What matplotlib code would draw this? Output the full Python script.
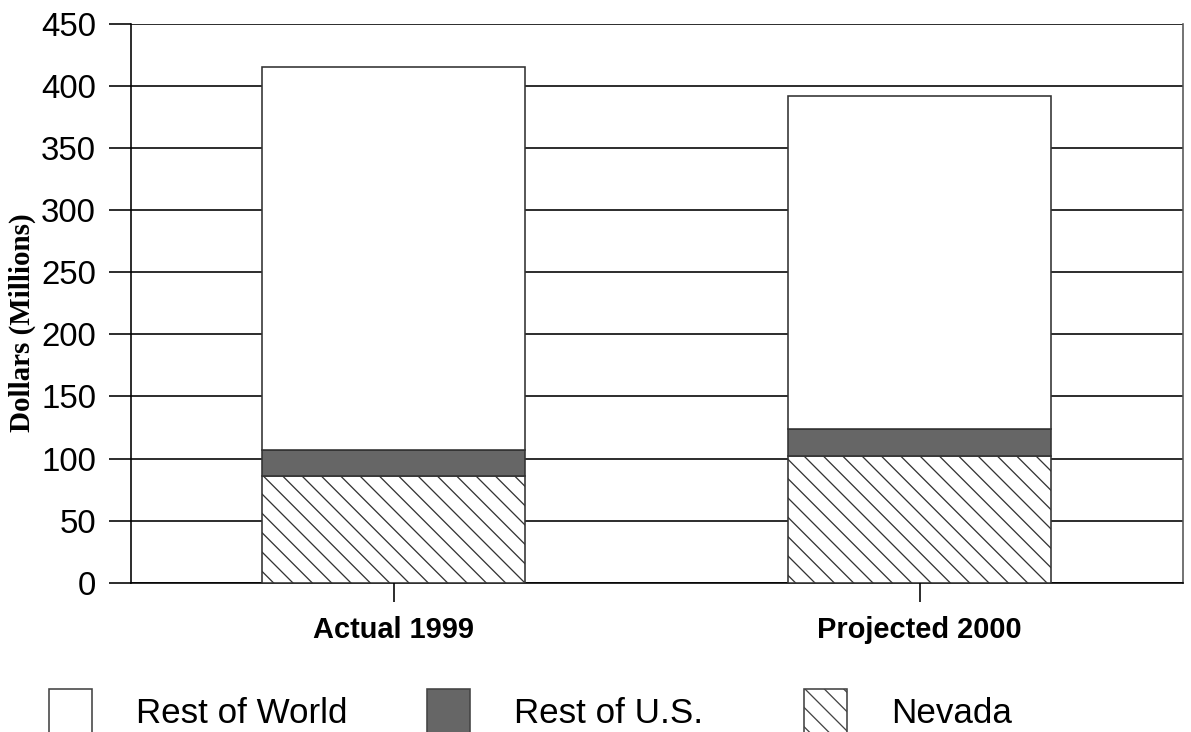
import matplotlib
matplotlib.use("Agg")
import matplotlib.pyplot as plt
from matplotlib.patches import Rectangle

# Revenue by source, in millions of dollars
categories = ["Actual 1999", "Projected 2000"]
nevada = [86, 102]
rest_of_us = [21, 21.5]
rest_of_world = [308, 268.5]

series_names = ["Rest of World", "Rest of U.S.", "Nevada"]
y_ticks = [0, 50, 100, 150, 200, 250, 300, 350, 400, 450]

W, H, DPI = 1191, 732, 116
plt.rcParams["hatch.linewidth"] = 0.8
sans = "Liberation Sans"
serif = "Liberation Serif"

fig = plt.figure(figsize=(W / DPI, H / DPI), dpi=DPI)
ax = fig.add_axes([131 / W, 1 - 582.7 / H, (1182.7 - 131) / W, (582.7 - 24) / H])

x = range(len(categories))
edge = "#333333"
ax.bar(x, nevada, width=0.5, color="white", edgecolor=edge, hatch="\\\\",
       linewidth=1.0, zorder=3)
ax.bar(x, rest_of_us, width=0.5, bottom=nevada, color="#666666",
       edgecolor=edge, linewidth=1.0, zorder=3)
base = [a + b for a, b in zip(nevada, rest_of_us)]
ax.bar(x, rest_of_world, width=0.5, bottom=base, color="white",
       edgecolor=edge, linewidth=1.0, zorder=3)

ax.set_xlim(-0.5, 1.5)
ax.set_ylim(0, 450)
ax.set_yticks(y_ticks)
ax.set_yticklabels([str(v) for v in y_ticks], fontfamily=sans, fontsize=20.5)
ax.set_xticks(list(x))
ax.set_xticklabels(categories, fontfamily=sans, fontweight="bold", fontsize=18)
ax.tick_params(axis="y", length=13.7, width=1.0, pad=8, color="black")
ax.tick_params(axis="x", length=11.8, width=1.0, pad=9, color="black")

ax.yaxis.grid(True, color="black", linewidth=1.0, zorder=0)
ax.set_axisbelow(True)
for side in ("left", "bottom"):
    ax.spines[side].set_color("black")
    ax.spines[side].set_linewidth(1.0)
ax.spines["right"].set_color("#555555")
ax.spines["right"].set_linewidth(1.0)
ax.spines["top"].set_visible(False)

ax.set_ylabel("Dollars (Millions)", fontfamily=serif, fontweight="bold",
              fontsize=18)
ax.yaxis.set_label_coords(-(131 - 36) / (1182.7 - 131), 1 - (323 - 24) / (582.7 - 24))

# Legend drawn along the bottom edge of the figure
fills = ["white", "#666666", "white"]
hatches = [None, None, "\\\\"]
for i, name in enumerate(series_names):
    x0 = 49 + 377.5 * i
    box = Rectangle((x0 / W, -0.05), 43 / W, (732 - 689) / H + 0.05,
                    transform=fig.transFigure, facecolor=fills[i],
                    edgecolor="#444444", linewidth=1.0, hatch=hatches[i])
    fig.add_artist(box)
    fig.text((x0 + 87) / W, 1 - 723 / H, name, fontfamily=sans,
             fontsize=21.7, va="baseline", ha="left")

fig.savefig("out.png", dpi=DPI)
